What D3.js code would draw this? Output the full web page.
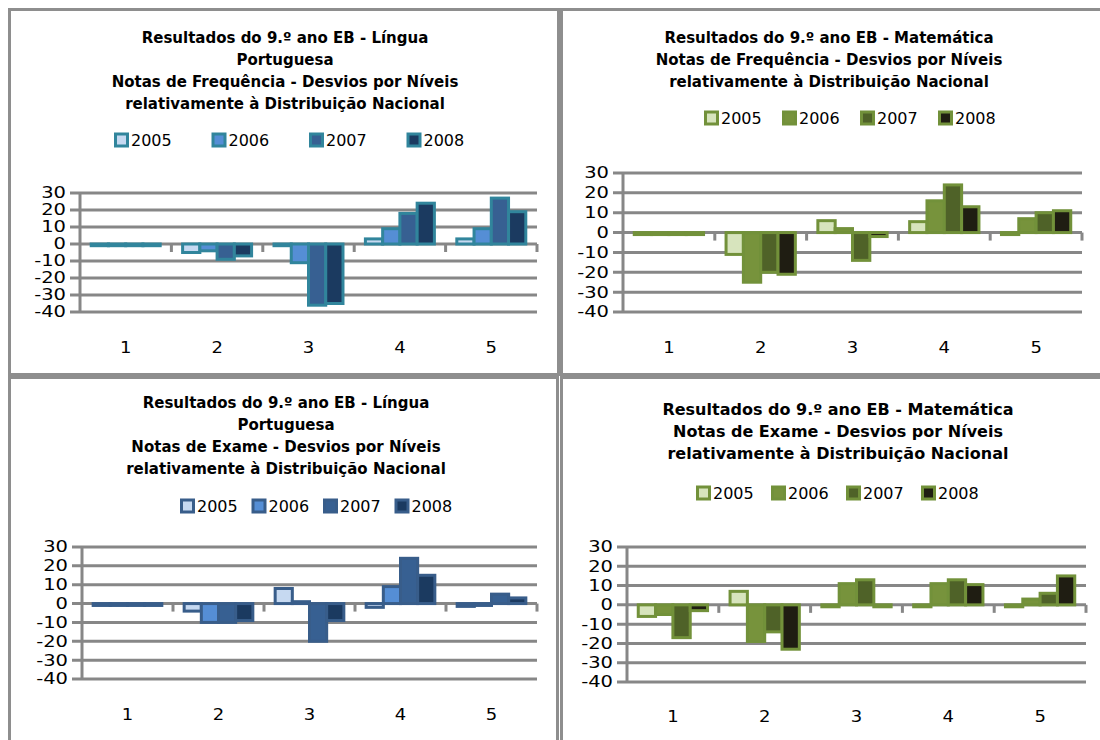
<!DOCTYPE html>
<html>
<head>
<meta charset="utf-8">
<script src="https://cdn.jsdelivr.net/npm/d3@7"></script>
<style>
  body { margin: 0; background: #fff; }
  svg { display: block; }
  .title { font-family: "DejaVu Sans", sans-serif; font-weight: bold; fill: #000; }
  .tick-label { font-family: "DejaVu Sans", sans-serif; font-size: 15px; fill: #000; }
  .legend-label { font-family: "DejaVu Sans", sans-serif; font-size: 16px; fill: #000; }
</style>
</head>
<body>
<div id="chart"></div>
<script>
////////////////////////////////////////////////////////////////////////
// Data

const levels = ["1", "2", "3", "4", "5"];
const years = ["2005", "2006", "2007", "2008"];
const yTicks = [30, 20, 10, 0, -10, -20, -30, -40];

// one row per year, one value per level
const lpFreqValues = [
  [-1, -5, -1, 3, 3],
  [-1, -4, -11, 9, 9],
  [-1, -9, -36, 18, 27],
  [-1, -7, -35, 24, 19]
];
const matFreqValues = [
  [-1, -11, 6, 5.5, -1],
  [-1, -25, 2, 16, 7],
  [-1, -20, -14, 24, 10],
  [-1, -21, -2, 13, 11]
];
const lpExamValues = [
  [-1, -4, 8, -2, -1.5],
  [-1, -10, 1, 9, -1],
  [-1, -10, -20, 24, 5],
  [-1, -9, -9, 15, 3]
];
const matExamValues = [
  [-6, 7, -1, -1, -1],
  [-5, -19, 11, 11, 3],
  [-17, -14, 13, 13, 6],
  [-3, -23, -1, 10.5, 15]
];

const lpFreqTitle = ["Resultados do 9.º ano EB - Língua", "Portuguesa",
  "Notas de Frequência - Desvios por Níveis", "relativamente à Distribuição Nacional"];
const matFreqTitle = ["Resultados do 9.º ano EB - Matemática",
  "Notas de Frequência - Desvios por Níveis", "relativamente à Distribuição Nacional"];
const lpExamTitle = ["Resultados do 9.º ano EB - Língua", "Portuguesa",
  "Notas de Exame - Desvios por Níveis", "relativamente à Distribuição Nacional"];
const matExamTitle = ["Resultados do 9.º ano EB - Matemática",
  "Notas de Exame - Desvios por Níveis", "relativamente à Distribuição Nacional"];

const blueFills = ["#c6d9f1", "#558ed5", "#376092", "#1b3a60"];
const greenFills = ["#d7e4bd", "#77933c", "#4f6228", "#1f1d12"];
const gridColor = "#878787";

////////////////////////////////////////////////////////////////////////
// Layout

const svg = d3.select("#chart")
  .append("svg")
  .attr("width", 1100)
  .attr("height", 740);

// panel frames
const panels = [
  {x: 9.5, y: 9.5, w: 549, h: 365},
  {x: 561.5, y: 9.5, w: 545, h: 365},
  {x: 9.5, y: 377.5, w: 548, h: 370},
  {x: 561.5, y: 377.5, w: 545, h: 370}
];
svg.selectAll("rect.panel")
  .data(panels)
  .enter()
  .append("rect")
  .attr("class", "panel")
  .attr("x", d => d.x)
  .attr("y", d => d.y)
  .attr("width", d => d.w)
  .attr("height", d => d.h)
  .attr("fill", "none")
  .attr("stroke", "#8e8e8e")
  .attr("stroke-width", 3);

// Draws one clustered bar chart
function drawChart(cfg) {
  let g = svg.append("g");

  let x = d3.scaleBand().domain(levels).range([cfg.x0, cfg.x1]);
  let xInner = d3.scaleBand().domain(years).range([0, x.bandwidth()])
    .paddingInner(0).paddingOuter(0.65);
  let y = d3.scaleLinear().domain([-40, 30]).range([cfg.yBot, cfg.yTop]);

  // title
  g.selectAll("text.title")
    .data(cfg.title)
    .enter()
    .append("text")
    .attr("class", "title")
    .attr("font-size", cfg.titleSize)
    .attr("text-anchor", "middle")
    .attr("x", cfg.titleX)
    .attr("y", (d, i) => cfg.titleY + i * 22)
    .text(d => d);

  // legend
  let leg = g.selectAll("g.leg")
    .data(years)
    .enter()
    .append("g")
    .attr("transform", (d, i) => "translate(" + (cfg.legX + i * cfg.legStep) + "," + cfg.legY + ")");
  leg.append("rect")
    .attr("x", 1.5)
    .attr("y", -6)
    .attr("width", 12)
    .attr("height", 12)
    .attr("fill", (d, i) => cfg.fills[i])
    .attr("stroke", cfg.stroke)
    .attr("stroke-width", 3);
  leg.append("text")
    .attr("class", "legend-label")
    .attr("x", 17)
    .attr("dy", "0.36em")
    .text(d => d);

  // gridlines
  g.selectAll("line.grid")
    .data(yTicks)
    .enter()
    .append("line")
    .attr("x1", cfg.x0 - 10)
    .attr("x2", cfg.x1)
    .attr("y1", d => y(d))
    .attr("y2", d => y(d))
    .attr("stroke", gridColor)
    .attr("stroke-width", 3);

  // y axis line
  g.append("line")
    .attr("x1", cfg.x0).attr("x2", cfg.x0)
    .attr("y1", y(30)).attr("y2", y(-40))
    .attr("stroke", gridColor)
    .attr("stroke-width", 3);

  // category tick marks below the zero line
  g.selectAll("line.xtick")
    .data(levels)
    .enter()
    .append("line")
    .attr("x1", d => x(d) + x.bandwidth())
    .attr("x2", d => x(d) + x.bandwidth())
    .attr("y1", y(0))
    .attr("y2", y(0) + 8)
    .attr("stroke", gridColor)
    .attr("stroke-width", 3);

  // y tick labels (glyphs look stretched sideways in the original)
  g.selectAll("text.ylab")
    .data(yTicks)
    .enter()
    .append("text")
    .attr("class", "tick-label")
    .attr("text-anchor", "end")
    .attr("transform", d => "translate(" + (cfg.x0 - 14) + "," + y(d) + ") scale(1.3,1)")
    .attr("dy", "0.36em")
    .text(d => d);

  // category labels
  g.selectAll("text.xlab")
    .data(levels)
    .enter()
    .append("text")
    .attr("class", "tick-label")
    .attr("font-size", "16px")
    .attr("text-anchor", "middle")
    .attr("transform", d => "translate(" + (x(d) + x.bandwidth() / 2) + "," + cfg.labY + ") scale(1.2,1)")
    .attr("dy", "0.36em")
    .text(d => d);

  // bars
  cfg.values.forEach((row, yi) => {
    g.selectAll(null)
      .data(row)
      .enter()
      .append("rect")
      .attr("x", (v, li) => x(levels[li]) + xInner(years[yi]))
      .attr("width", xInner.bandwidth())
      .attr("y", v => y(Math.max(v, 0)))
      .attr("height", v => Math.abs(y(v) - y(0)))
      .attr("fill", cfg.fills[yi])
      .attr("stroke", cfg.stroke)
      .attr("stroke-width", 3);
  });
}

drawChart({
  values: lpFreqValues, title: lpFreqTitle, fills: blueFills, stroke: "#31859c",
  x0: 80, x1: 537, yTop: 193, yBot: 312, labY: 348,
  titleX: 285, titleY: 43, titleSize: 15,
  legX: 114, legY: 140, legStep: 97.5
});
drawChart({
  values: matFreqValues, title: matFreqTitle, fills: greenFills, stroke: "#72913a",
  x0: 623, x1: 1082, yTop: 173, yBot: 312, labY: 348,
  titleX: 829, titleY: 43, titleSize: 15,
  legX: 704, legY: 118, legStep: 78
});
drawChart({
  values: lpExamValues, title: lpExamTitle, fills: blueFills, stroke: "#385d8a",
  x0: 82, x1: 537, yTop: 547, yBot: 679, labY: 715,
  titleX: 286, titleY: 408, titleSize: 15,
  legX: 180, legY: 506, legStep: 71.5
});
drawChart({
  values: matExamValues, title: matExamTitle, fills: greenFills, stroke: "#72913a",
  x0: 627, x1: 1086, yTop: 547, yBot: 682, labY: 717,
  titleX: 838, titleY: 415, titleSize: 16,
  legX: 696, legY: 493, legStep: 75
});
</script>
</body>
</html>
